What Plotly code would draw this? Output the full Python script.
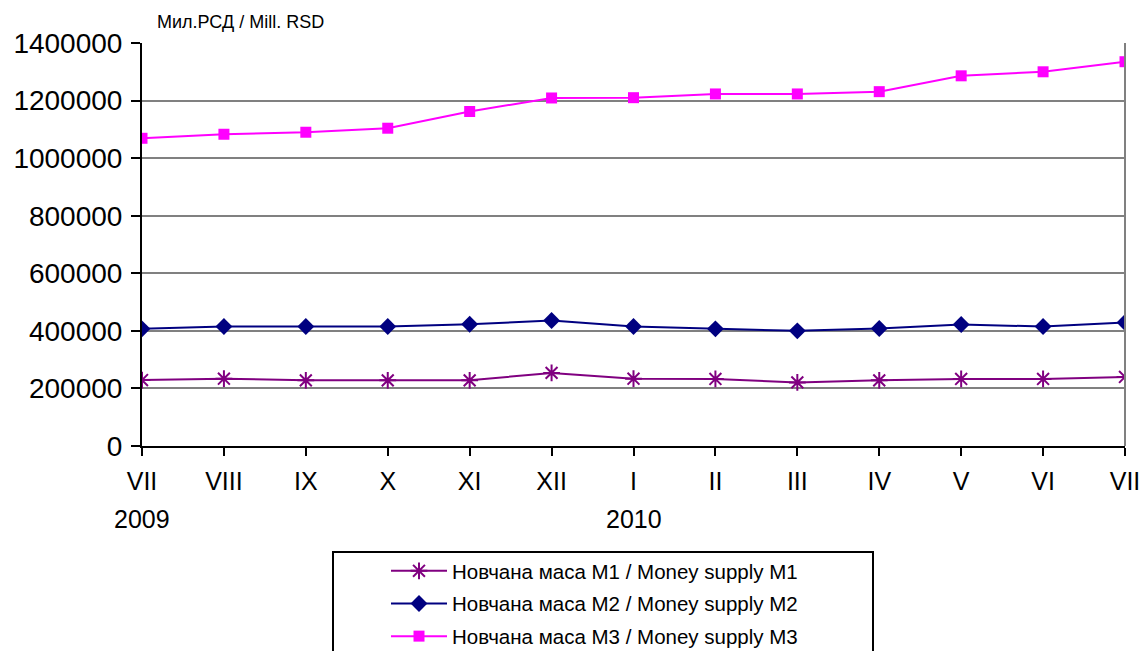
import plotly.graph_objects as go

months = ["VII", "VIII", "IX", "X", "XI", "XII", "I", "II", "III", "IV", "V", "VI", "VII"]
years = ["2009", "", "", "", "", "", "2010", "", "", "", "", "", ""]
m1 = [229000, 234000, 228000, 228000, 228000, 254000, 234000, 233000, 221000, 228000, 233000, 233000, 240000]
m2 = [407000, 415000, 415000, 415000, 423000, 436000, 415000, 407000, 400000, 408000, 422000, 415000, 429000]
m3 = [1069000, 1083000, 1090000, 1104000, 1162000, 1209000, 1210000, 1223000, 1223000, 1231000, 1286000, 1300000, 1335000]
y_ticks = [0, 200000, 400000, 600000, 800000, 1000000, 1200000, 1400000]

names = ["Новчана маса М1 / Money supply M1",
         "Новчана маса М2 / Money supply M2",
         "Новчана маса М3 / Money supply M3"]

x = list(range(len(months)))

fig = go.Figure()
fig.add_trace(go.Scatter(x=x, y=m1, name=names[0], mode="lines+markers", legendgroup="a",
                         line=dict(color="#800080", width=2),
                         marker=dict(symbol="asterisk-open", size=14, color="#800080",
                                     line=dict(color="#800080", width=2))))
fig.add_trace(go.Scatter(x=x, y=m2, name=names[1], mode="lines+markers", legendgroup="b",
                         line=dict(color="#000080", width=2),
                         marker=dict(symbol="diamond", size=13, color="#000080")))
fig.add_trace(go.Scatter(x=x, y=m3, name=names[2], mode="lines+markers", legendgroup="c",
                         line=dict(color="#FF00FF", width=2),
                         marker=dict(symbol="square", size=11, color="#FF00FF")))

W, H = 1142, 651
L, R, T, B = 142, 1125, 43, 446
pw, ph = R - L, B - T

def px(v):
    return (v - L) / pw

def py(v):
    return (B - v) / ph

annotations = [dict(text="Мил.РСД / Mill. RSD", xref="paper", yref="paper",
                    x=px(155), y=py(22), xanchor="left", yanchor="middle",
                    showarrow=False, font=dict(size=18))]
for xi, yr in zip(x, years):
    if yr:
        annotations.append(dict(text=yr, xref="x", yref="paper", x=xi, y=py(519),
                                xanchor="center", yanchor="middle", showarrow=False,
                                font=dict(size=25)))

fig.update_layout(
    width=W, height=H,
    margin=dict(l=L, r=W - R, t=T, b=H - B, autoexpand=False),
    paper_bgcolor="white", plot_bgcolor="white",
    font=dict(family="Liberation Sans, Arial, sans-serif", color="black"),
    showlegend=True,
    legend=dict(xref="container", yref="container",
                x=386 / W, y=1 - 551 / H, xanchor="left", yanchor="top",
                font=dict(size=20.5), tracegroupgap=3, itemwidth=56,
                bgcolor="rgba(0,0,0,0)", borderwidth=0),
    shapes=[dict(type="rect", xref="paper", yref="paper",
                 x0=px(333), x1=px(873), y0=py(665), y1=py(552),
                 line=dict(color="black", width=2), fillcolor="rgba(0,0,0,0)"),
            dict(type="line", xref="paper", yref="paper", x0=1, x1=1, y0=0, y1=1,
                 line=dict(color="#808080", width=2))],
    annotations=annotations,
)
fig.update_xaxes(range=[0, 12], tickmode="array", tickvals=x, ticktext=months,
                 showline=True, linecolor="black", linewidth=2,
                 ticks="outside", ticklen=8, tickcolor="black", tickwidth=2,
                 ticklabelstandoff=4, automargin=False,
                 showgrid=False, zeroline=False, tickfont=dict(size=25))
fig.update_yaxes(range=[0, 1400000], tickmode="array", tickvals=y_ticks,
                 ticktext=[str(v) for v in y_ticks],
                 showline=True, linecolor="black", linewidth=2,
                 ticks="outside", ticklen=9, tickcolor="black", tickwidth=2,
                 ticklabelstandoff=3, automargin=False,
                 showgrid=True, gridcolor="#808080", gridwidth=2,
                 zeroline=False, tickfont=dict(size=28))

fig.write_html("out.html",
               config={"displayModeBar": False},
               post_script="document.body.style.margin='0px';"
                           "document.body.style.overflow='hidden';")
